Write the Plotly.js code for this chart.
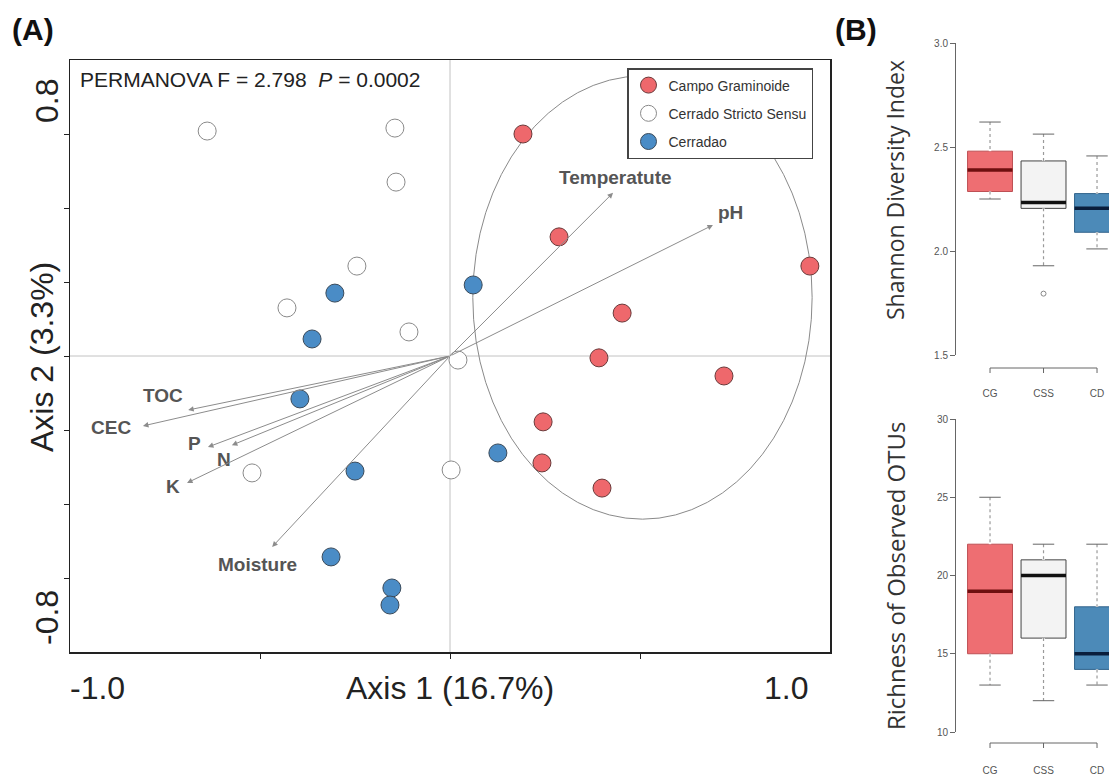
<!DOCTYPE html>
<html>
<head>
<meta charset="utf-8">
<script src="https://cdn.plot.ly/plotly-3.0.1.min.js"></script>
<style>html,body{margin:0;padding:0;background:#fff;}#chart{width:1109px;height:782px;}</style>
</head>
<body>
<div id="chart"></div>
<script>
// ---------- Panel A data (PCoA scores) ----------
const groupNames = ["Campo Graminoide", "Cerrado Stricto Sensu", "Cerradao"];
const cgX  = [0.192, 0.287, 0.947, 0.453, 0.392, 0.721, 0.245, 0.242, 0.400];
const cgY  = [0.600, 0.322, 0.243, 0.116, -0.005, -0.054, -0.178, -0.289, -0.357];
const cssX = [-0.639, -0.145, -0.142, -0.245, -0.429, -0.108, 0.021, -0.521, 0.003];
const cssY = [0.608, 0.616, 0.470, 0.243, 0.130, 0.065, -0.011, -0.316, -0.308];
const cdX  = [-0.303, -0.363, 0.061, -0.395, -0.250, 0.126, -0.313, -0.153, -0.158];
const cdY  = [0.170, 0.046, 0.192, -0.116, -0.311, -0.262, -0.543, -0.627, -0.673];

// environmental vectors
const envNames = ["Temperatute", "pH", "TOC", "CEC", "P", "N", "K", "Moisture"];
const envX = [0.429, 0.692, -0.689, -0.808, -0.637, -0.574, -0.692, -0.468];
const envY = [0.441, 0.354, -0.146, -0.189, -0.246, -0.241, -0.343, -0.516];

// ---------- Panel B data (box statistics) ----------
const boxCats = ["CG", "CSS", "CD"];
const shanLow = [2.25, 1.929, 2.01];
const shanQ1  = [2.286, 2.205, 2.09];
const shanMed = [2.39, 2.233, 2.205];
const shanQ3  = [2.48, 2.433, 2.276];
const shanUp  = [2.62, 2.562, 2.457];
const shanOutlierCat = [1];
const shanOutlierVal = [1.795];

const richLow = [13, 12, 13];
const richQ1  = [15, 16, 14];
const richMed = [19, 20, 15];
const richQ3  = [22, 21, 18];
const richUp  = [25, 22, 22];

// ---------- styles ----------
const W = 1109, H = 782;
const px = v => v / W;
const py = v => 1 - v / H;
const FONT = "Liberation Sans, Arial, sans-serif";

const groupFill = ["rgb(238,104,108)", "#ffffff", "rgb(74,140,198)"];
const groupLine = ["#6a3a3a", "#8a8a8a", "#3a4a5a"];
const boxFill = ["rgb(238,110,114)", "#f3f3f3", "rgb(76,138,184)"];
const boxLine = ["rgb(190,80,84)", "#444444", "rgb(50,100,140)"];
const medColor = ["rgb(110,15,15)", "#111111", "rgb(10,30,60)"];

// label offsets in pixels (x, y up)
const labelShift = {
  "Temperatute": [2, 15], "pH": [18, 13], "TOC": [-25, 15], "CEC": [-32, -2],
  "P": [-13, 4], "N": [-8, -14], "K": [-14, -4], "Moisture": [-15, -18]
};

const traces = [];
const groupsX = [cgX, cssX, cdX], groupsY = [cgY, cssY, cdY];
groupNames.forEach((g, i) => {
  traces.push({
    type: "scatter", mode: "markers", name: g, legendgroup: "g" + i,
    x: groupsX[i], y: groupsY[i], xaxis: "x", yaxis: "y",
    marker: {size: 18, color: groupFill[i], line: {color: groupLine[i], width: 1}},
    hoverinfo: "x+y+name"
  });
});

// box plots
const CAP = 0.2;
function addBoxes(low, q1, med, q3, up, xa, ya) {
  boxCats.forEach((c, i) => {
    traces.push({
      type: "box", name: c, showlegend: false, xaxis: xa, yaxis: ya,
      x: [i], q1: [q1[i]], median: [med[i]], q3: [q3[i]],
      lowerfence: [low[i]], upperfence: [up[i]],
      width: 0.84, whiskerwidth: 0,
      fillcolor: boxFill[i], line: {color: boxLine[i], width: 1},
      boxpoints: false
    });
    // hide solid whiskers, then draw dotted R-style whiskers
    traces.push({
      type: "scatter", mode: "lines", showlegend: false, hoverinfo: "skip",
      xaxis: xa, yaxis: ya, x: [i, i, null, i, i], y: [up[i], q3[i], null, q1[i], low[i]],
      line: {color: "#ffffff", width: 2.5}
    });
    traces.push({
      type: "scatter", mode: "lines", showlegend: false, hoverinfo: "skip",
      xaxis: xa, yaxis: ya, x: [i, i, null, i, i], y: [up[i], q3[i], null, q1[i], low[i]],
      line: {color: "#9a9a9a", width: 1.2, dash: "dot"}
    });
    // caps
    traces.push({
      type: "scatter", mode: "lines", showlegend: false, hoverinfo: "skip",
      xaxis: xa, yaxis: ya, x: [i - CAP, i + CAP, null, i - CAP, i + CAP], y: [up[i], up[i], null, low[i], low[i]],
      line: {color: "#666", width: 1}
    });
    // thick median
    traces.push({
      type: "scatter", mode: "lines", showlegend: false, hoverinfo: "skip",
      xaxis: xa, yaxis: ya, x: [i - 0.42, i + 0.42], y: [med[i], med[i]],
      line: {color: medColor[i], width: 3.5}
    });
  });
}
addBoxes(shanLow, shanQ1, shanMed, shanQ3, shanUp, "x2", "y2");
addBoxes(richLow, richQ1, richMed, richQ3, richUp, "x3", "y3");
traces.push({
  type: "scatter", mode: "markers", showlegend: false, xaxis: "x2", yaxis: "y2",
  x: shanOutlierCat, y: shanOutlierVal,
  marker: {symbol: "circle-open", size: 5, color: "#888", line: {width: 1}}
});

// annotations
const ann = [];
envNames.forEach((n, i) => {
  ann.push({x: envX[i], y: envY[i], ax: 0, ay: 0, xref: "x", yref: "y", axref: "x", ayref: "y",
    text: "", showarrow: true, arrowhead: 2, arrowsize: 1.1, arrowwidth: 1, arrowcolor: "#8c8c8c", standoff: 0});
  ann.push({x: envX[i], y: envY[i], xref: "x", yref: "y", text: n, showarrow: false,
    xshift: labelShift[n][0], yshift: labelShift[n][1],
    font: {family: FONT, size: 19, color: "#555", weight: "bold"}});
});
const txt = (t, x, y, size, opts) => Object.assign({
  text: t, x: px(x), y: py(y), xref: "paper", yref: "paper", showarrow: false,
  xanchor: "center", yanchor: "middle", font: {family: FONT, size: size, color: "#222"}
}, opts || {});
ann.push(txt("<b>(A)</b>", 33, 30, 30, {font: {family: FONT, size: 30, color: "#111"}}));
ann.push(txt("<b>(B)</b>", 856, 30, 30, {font: {family: FONT, size: 30, color: "#111"}}));
ann.push(txt("PERMANOVA F = 2.798  <i>P</i> = 0.0002", 78, 80, 21, {xanchor: "left", font: {family: FONT, size: 21, color: "#222"}}));
ann.push(txt("Axis 1 (16.7%)", 450, 688, 32));
ann.push(txt("Axis 2 (3.3%)", 42, 357, 32, {textangle: -90}));
ann.push(txt("-1.0", 97, 688, 32));
ann.push(txt("1.0", 786, 688, 32));
ann.push(txt("0.8", 47, 101, 32, {textangle: -90}));
ann.push(txt("-0.8", 47, 618, 32, {textangle: -90}));
ann.push(txt("Shannon Diversity Index", 895, 190, 23, {textangle: -90, font: {family: "Open Sans, sans-serif", size: 23, color: "#333"}}));
ann.push(txt("Richness of Observed OTUs", 895, 576, 24, {textangle: -90, font: {family: "Open Sans, sans-serif", size: 24, color: "#333"}}));

// shapes
const shapes = [
  {type: "line", xref: "x", yref: "y", x0: 0, x1: 0, y0: -0.8, y1: 0.8, line: {color: "#c2c2c2", width: 1}, layer: "below"},
  {type: "line", xref: "x", yref: "y", x0: -1, x1: 1, y0: 0, y1: 0, line: {color: "#c2c2c2", width: 1}, layer: "below"},
  {type: "circle", xref: "x", yref: "y", x0: 0.060, x1: 0.953, y0: -0.441, y1: 0.757, line: {color: "#8a8a8a", width: 1}, layer: "below"}
];
function bracket(xa, yPix) {
  shapes.push({type: "line", xref: xa, yref: "paper", x0: 0, x1: boxCats.length - 1, y0: py(yPix), y1: py(yPix), line: {color: "#666", width: 1}});
  boxCats.forEach((c, i) => shapes.push({type: "line", xref: xa, yref: "paper", x0: i, x1: i, y0: py(yPix), y1: py(yPix + 5), line: {color: "#666", width: 1}}));
}
bracket("x2", 368);
bracket("x3", 743);

const boxX = {
  domain: [px(956), 1], range: [-0.636, 2.224], showgrid: false, zeroline: false, showline: false,
  tickvals: [0, 1, 2], ticktext: boxCats, ticks: "", anchor: "free",
  tickfont: {family: FONT, size: 10, color: "#555"}, fixedrange: true
};
const boxY = {
  showgrid: false, zeroline: false, showline: true, linecolor: "#666", linewidth: 1,
  ticks: "outside", ticklen: 5, tickcolor: "#666", tickfont: {family: FONT, size: 10, color: "#555"}
};

const layout = {
  width: W, height: H, autosize: false,
  margin: {l: 0, r: 0, t: 0, b: 0, pad: 0},
  paper_bgcolor: "#fff", plot_bgcolor: "#fff",
  font: {family: FONT},
  showlegend: true,
  legend: {
    x: px(627), y: py(68), xanchor: "left", yanchor: "top",
    bgcolor: "#fff", bordercolor: "#444", borderwidth: 1.5,
    font: {family: FONT, size: 14, color: "#333"},
    traceorder: "grouped", tracegroupgap: 7, itemclick: false
  },
  xaxis: {
    domain: [px(70), px(830)], range: [-1, 1], showgrid: false, zeroline: false,
    showline: true, mirror: true, linecolor: "#222", linewidth: 1.5,
    ticks: "outside", ticklen: 5, tickcolor: "#222", tickvals: [-0.5, 0, 0.5], showticklabels: false, anchor: "y"
  },
  yaxis: {
    domain: [py(652), py(60)], range: [-0.8, 0.8], showgrid: false, zeroline: false,
    showline: true, mirror: true, linecolor: "#222", linewidth: 1.5,
    ticks: "outside", ticklen: 5, tickcolor: "#222", tickvals: [-0.6, -0.4, -0.2, 0, 0.2, 0.4, 0.6], showticklabels: false, anchor: "x"
  },
  xaxis2: Object.assign({}, boxX, {position: py(386)}),
  yaxis2: Object.assign({}, boxY, {domain: [py(355), py(43)], range: [1.5, 3.0], tickvals: [1.5, 2.0, 2.5, 3.0], tickformat: ".1f", anchor: "x2"}),
  xaxis3: Object.assign({}, boxX, {position: py(763)}),
  yaxis3: Object.assign({}, boxY, {domain: [py(732), py(419)], range: [10, 30], tickvals: [10, 15, 20, 25, 30], anchor: "x3"}),
  annotations: ann,
  shapes: shapes
};

Plotly.newPlot("chart", traces, layout, {displayModeBar: false, staticPlot: true});
</script>
</body>
</html>
